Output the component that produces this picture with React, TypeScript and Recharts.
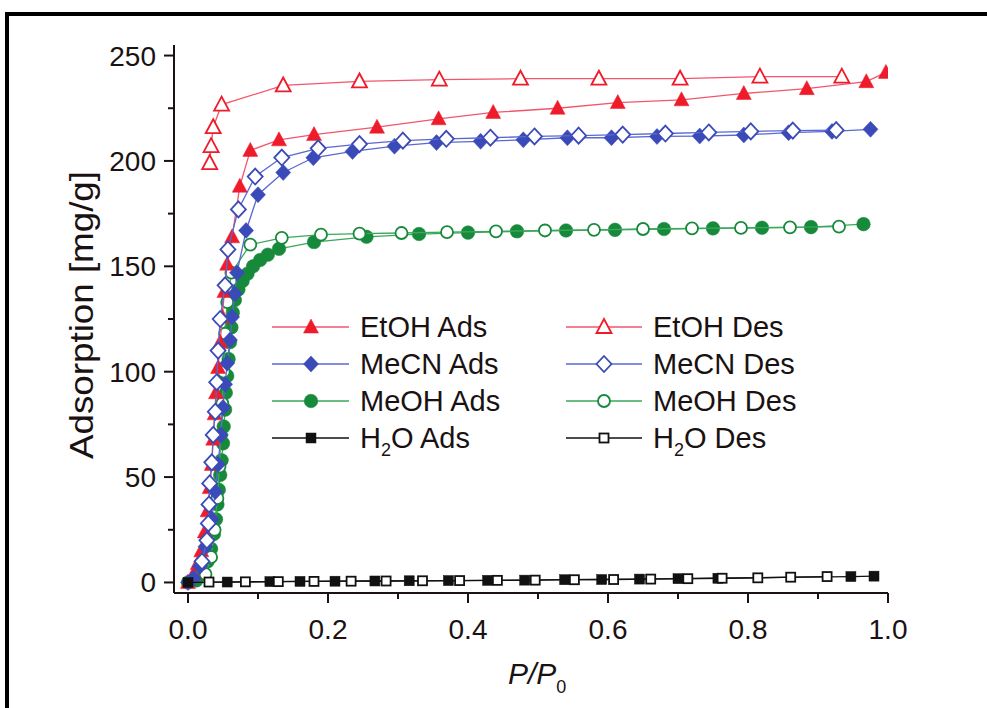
import React from 'react'
import { ScatterChart, Scatter, XAxis, YAxis } from 'recharts'

const FONT = '"Liberation Sans", Arial, Helvetica, sans-serif'
const INK = '#1a1212'

// [P/P0, adsorption mg/g]
const etohAds = [
  [0, 0], [0.008, 4], [0.014, 9], [0.019, 15], [0.024, 24], [0.028, 34], [0.031, 45], [0.034, 56],
  [0.036, 68], [0.038, 80], [0.04, 90], [0.043, 102], [0.046, 114], [0.049, 126], [0.052, 138],
  [0.056, 151], [0.063, 164], [0.074, 188], [0.089, 205], [0.13, 210], [0.18, 212.5], [0.27, 216],
  [0.358, 220], [0.436, 223], [0.528, 225], [0.614, 227.7], [0.705, 229], [0.794, 232],
  [0.884, 234.3], [0.969, 237.6], [0.997, 242],
]
const etohDes = [
  [0.031, 199], [0.033, 207], [0.036, 216], [0.048, 226.7], [0.136, 235.8], [0.245, 237.7],
  [0.359, 238.6], [0.475, 239], [0.587, 239], [0.703, 239], [0.817, 240], [0.934, 240],
]
const mecnAds = [
  [0, 0], [0.008, 2], [0.017, 7.6], [0.025, 17], [0.034, 30], [0.039, 43], [0.043, 56], [0.047, 70],
  [0.05, 83], [0.053, 94], [0.056, 104], [0.06, 115], [0.063, 126], [0.067, 137], [0.07, 147],
  [0.083, 167], [0.1, 184], [0.136, 194.5], [0.179, 201.5], [0.235, 204.5], [0.295, 207],
  [0.355, 208.7], [0.418, 209.3], [0.479, 210], [0.542, 211], [0.605, 211], [0.67, 211.6],
  [0.731, 211.8], [0.794, 212.3], [0.858, 213.4], [0.92, 214], [0.975, 215],
]
const mecnDes = [
  [0.02, 10], [0.027, 20], [0.029, 28], [0.03, 37], [0.031, 47], [0.034, 57], [0.036, 70],
  [0.039, 81], [0.041, 95], [0.043, 110], [0.046, 125], [0.053, 141], [0.057, 158], [0.072, 177],
  [0.096, 192.6], [0.134, 201.6], [0.186, 206], [0.245, 208], [0.307, 209.6], [0.369, 210.5],
  [0.432, 211], [0.495, 211.6], [0.558, 212], [0.621, 212.5], [0.682, 213], [0.744, 213.5],
  [0.804, 214], [0.864, 214.4], [0.926, 214.6],
]
const meohAds = [
  [0, 0], [0.012, 1], [0.021, 5], [0.028, 10], [0.033, 16], [0.037, 23], [0.04, 30], [0.042, 37],
  [0.044, 44], [0.046, 51], [0.048, 58], [0.05, 66], [0.051, 74], [0.053, 82], [0.054, 90],
  [0.056, 98], [0.058, 106], [0.06, 114], [0.062, 121], [0.064, 128], [0.067, 134], [0.072, 139],
  [0.078, 143], [0.085, 146.5], [0.093, 150], [0.103, 153], [0.114, 155.5], [0.13, 158.3],
  [0.18, 161.5], [0.255, 164], [0.33, 165.3], [0.4, 166], [0.47, 166.6], [0.54, 167],
  [0.61, 167.3], [0.68, 167.7], [0.75, 168], [0.82, 168.3], [0.89, 168.6], [0.965, 170],
]
const meohDes = [
  [0.025, 4], [0.033, 12], [0.038, 25], [0.042, 40], [0.045, 55], [0.047, 70], [0.049, 85],
  [0.051, 100], [0.053, 118], [0.056, 133], [0.062, 147], [0.089, 160.3], [0.134, 163.5],
  [0.19, 165], [0.245, 165.5], [0.305, 165.8], [0.37, 166.2], [0.44, 166.6], [0.51, 167],
  [0.58, 167.3], [0.65, 167.7], [0.72, 168], [0.79, 168.2], [0.86, 168.5], [0.93, 168.8],
]
const h2oAds = [
  [0, 0], [0.056, 0.2], [0.117, 0.4], [0.16, 0.5], [0.21, 0.6], [0.267, 0.7], [0.316, 0.8],
  [0.372, 0.9], [0.428, 1], [0.481, 1.1], [0.538, 1.3], [0.591, 1.4], [0.645, 1.6], [0.7, 1.8],
  [0.757, 2], [0.947, 2.8], [0.98, 3],
]
const h2oDes = [
  [0.03, 0.2], [0.082, 0.3], [0.129, 0.4], [0.18, 0.5], [0.233, 0.6], [0.283, 0.7], [0.335, 0.8],
  [0.388, 0.9], [0.442, 1], [0.496, 1.1], [0.552, 1.3], [0.608, 1.4], [0.661, 1.6], [0.714, 1.8],
  [0.763, 2], [0.814, 2.2], [0.861, 2.5], [0.913, 2.8],
]

const xTicks = [0, 0.1, 0.2, 0.3, 0.4, 0.5, 0.6, 0.7, 0.8, 0.9, 1.0]
const yTicks = [0, 25, 50, 75, 100, 125, 150, 175, 200, 225, 250]

const RED = '#ee1c2a'
const RED_LINE = '#f2566c'
const BLUE = '#3a4ab8'
const BLUE_LINE = '#5a68d2'
const GREEN = '#16893a'
const GREEN_LINE = '#3aa85a'
const BLACK = '#111'

type Kind = 'tri' | 'dia' | 'circ' | 'sq'

function Marker({ kind, filled, color, cx, cy }: { kind: Kind, filled: boolean, color: string, cx: number, cy: number }) {
  const fill = filled ? color : '#fff'
  const sw = filled ? 0.5 : 1.8
  if (kind === 'tri') {
    return <polygon points={`${cx},${cy - 8} ${cx - 7.5},${cy + 6} ${cx + 7.5},${cy + 6}`} fill={fill} stroke={color} strokeWidth={sw} />
  }
  if (kind === 'dia') {
    return <polygon points={`${cx},${cy - 8} ${cx + 7.5},${cy} ${cx},${cy + 8} ${cx - 7.5},${cy}`} fill={fill} stroke={color} strokeWidth={sw} />
  }
  if (kind === 'circ') {
    return <circle cx={cx} cy={cy} r={filled ? 6.8 : 6} fill={fill} stroke={color} strokeWidth={sw} />
  }
  const s = filled ? 10 : 9
  return <rect x={cx - s / 2} y={cy - s / 2} width={s} height={s} fill={fill} stroke={color} strokeWidth={sw} />
}

const series = [
  { name: 'MeOH Ads', data: meohAds, kind: 'circ' as Kind, filled: true, color: GREEN, line: GREEN_LINE },
  { name: 'MeOH Des', data: meohDes, kind: 'circ' as Kind, filled: false, color: GREEN, line: GREEN_LINE },
  { name: 'EtOH Ads', data: etohAds, kind: 'tri' as Kind, filled: true, color: RED, line: RED_LINE },
  { name: 'EtOH Des', data: etohDes, kind: 'tri' as Kind, filled: false, color: RED, line: RED_LINE },
  { name: 'MeCN Ads', data: mecnAds, kind: 'dia' as Kind, filled: true, color: BLUE, line: BLUE_LINE },
  { name: 'MeCN Des', data: mecnDes, kind: 'dia' as Kind, filled: false, color: BLUE, line: BLUE_LINE },
  { name: 'H2O Ads', data: h2oAds, kind: 'sq' as Kind, filled: true, color: BLACK, line: BLACK },
  { name: 'H2O Des', data: h2oDes, kind: 'sq' as Kind, filled: false, color: BLACK, line: BLACK },
]

const legendLeft = [
  { label: 'EtOH Ads', kind: 'tri' as Kind, color: RED, line: RED_LINE },
  { label: 'MeCN Ads', kind: 'dia' as Kind, color: BLUE, line: BLUE_LINE },
  { label: 'MeOH Ads', kind: 'circ' as Kind, color: GREEN, line: GREEN_LINE },
  { label: 'H2O Ads', kind: 'sq' as Kind, color: BLACK, line: BLACK },
]
const legendRight = [
  { label: 'EtOH Des', kind: 'tri' as Kind, color: RED, line: RED_LINE },
  { label: 'MeCN Des', kind: 'dia' as Kind, color: BLUE, line: BLUE_LINE },
  { label: 'MeOH Des', kind: 'circ' as Kind, color: GREEN, line: GREEN_LINE },
  { label: 'H2O Des', kind: 'sq' as Kind, color: BLACK, line: BLACK },
]

const XTick = (props: any) => {
  const { x, y, payload } = props
  const major = Math.round(payload.value * 10) % 2 === 0
  return (
    <g>
      <line x1={x} x2={x} y1={y} y2={y + (major ? 10 : 6)} stroke={INK} strokeWidth={2} />
      {major && (
        <text x={x} y={y + 46} textAnchor="middle" fontSize={28} fontFamily={FONT} fill={INK}>
          {payload.value.toFixed(1)}
        </text>
      )}
    </g>
  )
}

const YTick = (props: any) => {
  const { x, y, payload } = props
  const major = payload.value % 50 === 0
  return (
    <g>
      <line x1={x} x2={x - (major ? 10 : 6)} y1={y} y2={y} stroke={INK} strokeWidth={2} />
      {major && (
        <text x={x - 18} y={y + 10} textAnchor="end" fontSize={28} fontFamily={FONT} fill={INK}>
          {payload.value}
        </text>
      )}
    </g>
  )
}

function LegendLabel({ text, x, y }: { text: string, x: number, y: number }) {
  if (text.startsWith('H2O')) {
    return (
      <text x={x} y={y} fontSize={29} fontFamily={FONT} fill={INK}>
        H<tspan dy={8} fontSize={18}>2</tspan><tspan dy={-8}>{text.slice(2)}</tspan>
      </text>
    )
  }
  return <text x={x} y={y} fontSize={29} fontFamily={FONT} fill={INK}>{text}</text>
}

export default function App() {
  const rows = [327, 364, 401, 438]
  return (
    <div style={{ position: 'absolute', left: 0, top: 0, width: 987, height: 708, overflow: 'hidden', background: '#fff' }}>
      <div style={{ position: 'absolute', left: 5, top: 12, width: 982, height: 696, borderLeft: '4px solid #000', borderTop: '4px solid #000', boxSizing: 'border-box' }} />
      <div style={{ position: 'absolute', left: 0, top: 0 }}>
        <ScatterChart width={987} height={708} margin={{ top: 45, right: 99, bottom: 85, left: 114 }}>
          <XAxis
            type="number"
            dataKey="x"
            domain={[-0.02, 1]}
            ticks={xTicks}
            interval={0}
            tickSize={0}
            tickMargin={0}
            height={30}
            tick={<XTick />}
            axisLine={{ stroke: INK, strokeWidth: 2 }}
            allowDataOverflow
          />
          <YAxis
            type="number"
            dataKey="y"
            domain={[-5, 255]}
            ticks={yTicks}
            interval={0}
            tickSize={0}
            tickMargin={0}
            width={60}
            tick={<YTick />}
            axisLine={{ stroke: INK, strokeWidth: 2 }}
            allowDataOverflow
          />
          {series.map(s => (
            <Scatter
              key={s.name}
              name={s.name}
              data={s.data.map(([x, y]) => ({ x, y }))}
              line={{ stroke: s.line, strokeWidth: 1.3 }}
              shape={(p: any) => <Marker kind={s.kind} filled={s.filled} color={s.color} cx={p.cx} cy={p.cy} />}
              isAnimationActive={false}
            />
          ))}
        </ScatterChart>
      </div>
      <svg width={987} height={708} style={{ position: 'absolute', left: 0, top: 0, pointerEvents: 'none' }}>
        {legendLeft.map((l, i) => (
          <g key={l.label}>
            <line x1={272} x2={349} y1={rows[i]} y2={rows[i]} stroke={l.line} strokeWidth={1.4} />
            <Marker kind={l.kind} filled color={l.color} cx={311} cy={rows[i]} />
            <LegendLabel text={l.label} x={360} y={rows[i] + 10} />
          </g>
        ))}
        {legendRight.map((l, i) => (
          <g key={l.label}>
            <line x1={566} x2={642} y1={rows[i]} y2={rows[i]} stroke={l.line} strokeWidth={1.4} />
            <Marker kind={l.kind} filled={false} color={l.color} cx={604} cy={rows[i]} />
            <LegendLabel text={l.label} x={653} y={rows[i] + 10} />
          </g>
        ))}
        <text transform="translate(93,315) rotate(-90)" textAnchor="middle" fontSize={34} fontFamily={FONT} fill={INK} textLength={288} lengthAdjust="spacingAndGlyphs">
          Adsorption [mg/g]
        </text>
        <text x={508} y={684} fontSize={30} fontFamily={FONT} fontStyle="italic" fill={INK}>
          P/P<tspan dy={9} fontSize={18} fontStyle="normal">0</tspan>
        </text>
      </svg>
    </div>
  )
}
